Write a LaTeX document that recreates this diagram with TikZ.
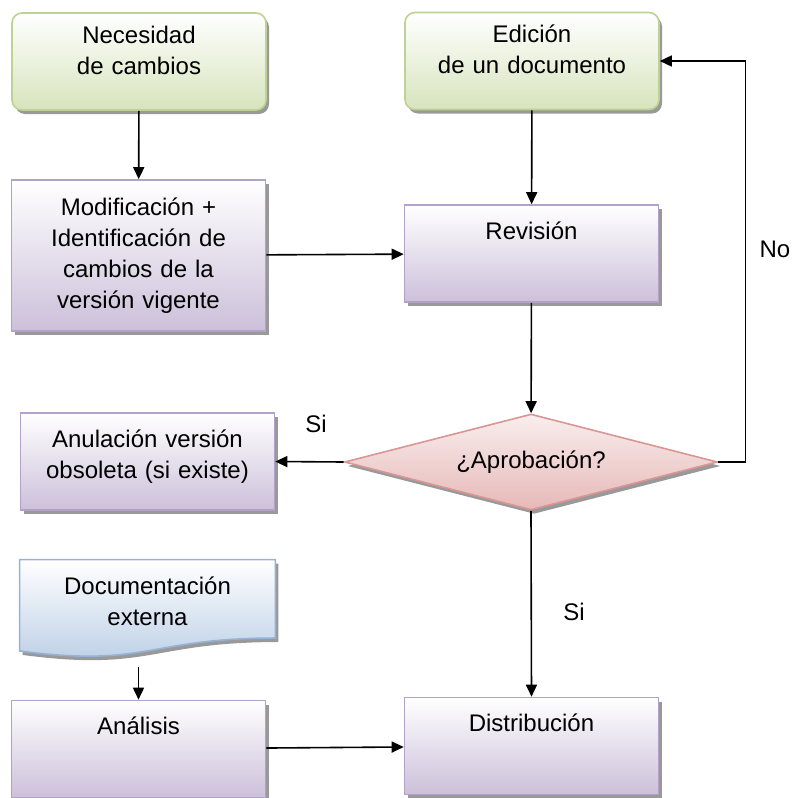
\documentclass[tikz,border=0pt]{standalone}
\usepackage{fontspec}
\setmainfont{Liberation Sans}
\usepackage{tikz}
\usetikzlibrary{calc, positioning, arrows.meta, shapes.geometric, shadows, backgrounds}
\definecolor{greenfill}{HTML}{D7E4BD}
\definecolor{greenline}{HTML}{BED295}
\definecolor{lilacfill}{HTML}{CCC0DA}
\definecolor{lilacline}{HTML}{B3A2C7}
\definecolor{rosefill}{HTML}{E6B9B8}
\definecolor{roseline}{HTML}{D99694}
\definecolor{bluefill}{HTML}{B9CDE5}
\definecolor{blueline}{HTML}{95B3D7}
\tikzstyle{shade}=[drop shadow={shadow xshift=1.5pt, shadow yshift=-2pt, fill=black, opacity=.4}]
\tikzstyle{flowbox}=[draw, thick, shade, inner sep=0pt, text width=123pt, align=center, minimum width=127pt, text height=17pt, text depth=31.5pt]
\tikzstyle{startbox}=[flowbox, rounded corners=5pt, draw=greenline, top color=white, bottom color=greenfill, text height=15pt, text depth=33.5pt]
\tikzstyle{procbox}=[flowbox, draw=lilacline, top color=white, bottom color=lilacfill]
\tikzstyle{askbox}=[shape=diamond, draw=roseline, thick, shade, aspect=3.9, minimum width=186.5pt, minimum height=48pt, inner sep=0pt, top color=rosefill!25, bottom color=rosefill]
\tikzstyle{docbox}=[inner sep=0pt, text width=123pt, align=center, minimum width=127.5pt, text height=17pt, text depth=31.5pt]
\tikzset{>={Triangle[length=6pt, width=5.5pt]}}

\begin{document}
\begin{tikzpicture}[x=0.5pt, y=-0.5pt, font=\fontsize{12}{15.5}\selectfont]
\useasboundingbox (0,0) rectangle (793,798);
% the two starting boxes
\node[startbox] (Nec) at (139, 61.5) {Necesidad\\de cambios};
\node[startbox] (Edi) at (532, 61) {Edición\\de un documento};
% the process boxes
\node[procbox, text height=17.5pt, text depth=58pt] (Mod) at (138.5, 255.5) {Modificación +\\Identificación de\\cambios de la\\versión vigente};
\node[procbox] (Rev) at (531.5, 253.5) {Revisión};
\node[procbox] (Anu) at (147.5, 461.5) {Anulación versión\\obsoleta (si existe)};
\node[procbox] (Ana) at (138.5, 749) {Análisis};
\node[procbox] (Dis) at (531.5, 746) {Distribución};
% the decision
\node[askbox] (Apr) at (531, 462) {¿Aprobación?};
% the external document
\node[docbox] (Doc) at (147.5, 608.5) {Documentación\\externa};
\begin{scope}[on background layer]
\draw[thick, draw=blueline, top color=white, bottom color=bluefill, shade] (Doc.north west) -- (Doc.north east) -- ($(Doc.north east)!0.802!(Doc.south east)$) .. controls ($(Doc.north)!0.802!(Doc.south)$) and ($(Doc.north)!1.1075!(Doc.south)$) .. ($(Doc.north west)!0.934!(Doc.south west)$) -- cycle;
\end{scope}
% the labels
\node (No) at (775, 249) {No};
\node (SiA) at (316, 424) {Si};
\node (SiB) at (574, 612) {Si};
%
% the arrows
\draw[thick, ->] (Nec) -- (Mod);
\draw[thick, ->] (Edi) -- (Rev);
\draw[thick, ->] (Mod) -- (Rev);
\draw[thick, ->] (Rev) -- (Apr);
\draw[thick, ->] (Apr.west) -- (Anu.east);
\draw[thick, ->] (Apr.south) -- (Dis.north);
\draw[thick, ->] (Apr.east) -- ++(27,0) |- (Edi.east);
\draw[thick, ->, shorten <= 5pt] (Ana.north |- Doc.south) -- (Ana.north);
\draw[thick, ->] (Ana) -- (Dis);
\end{tikzpicture}
\end{document}
